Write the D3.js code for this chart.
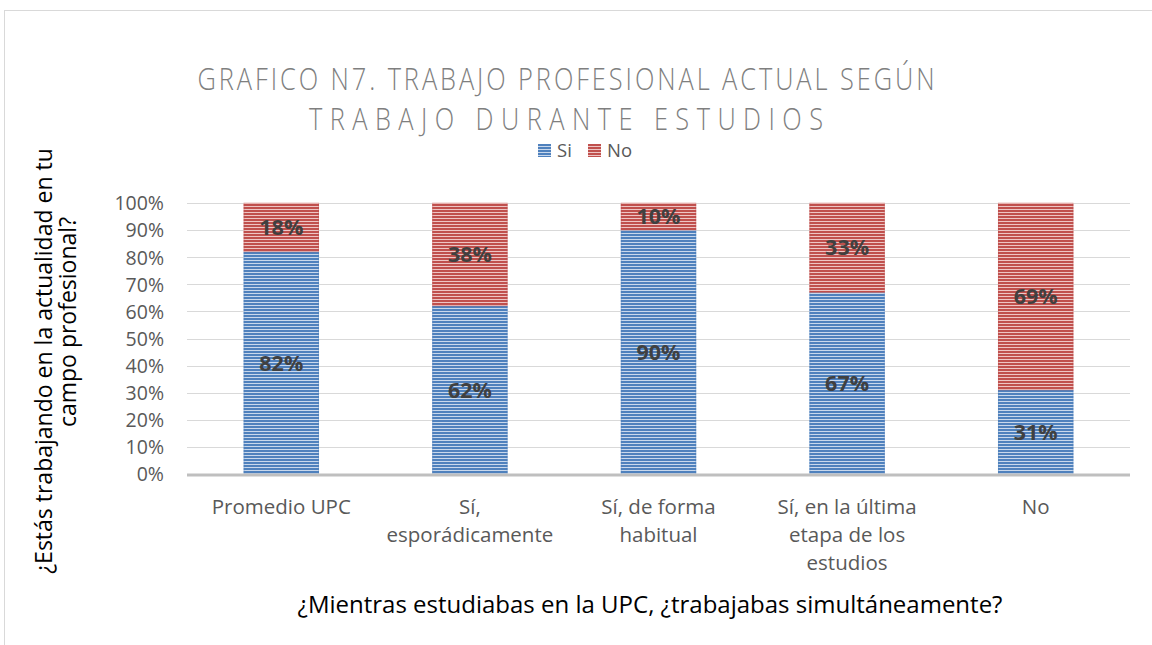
<!DOCTYPE html>
<html><head><meta charset="utf-8">
<script src="https://cdn.jsdelivr.net/npm/d3@7"></script>
<style>body{margin:0;background:#fff}svg{display:block}</style>
</head><body>
<svg id="c" width="1152" height="645"></svg>
<script>
const categories = [["Promedio UPC"],["Sí,","esporádicamente"],["Sí, de forma","habitual"],["Sí, en la última","etapa de los","estudios"],["No"]];
const seriesNames = ["Si","No"];
const siValues = [82,62,90,67,31];
const noValues = [18,38,10,33,69];
const yTicks = [0,10,20,30,40,50,60,70,80,90,100];
const titleLines = ["GRAFICO N7. TRABAJO PROFESIONAL ACTUAL SEGÚN","TRABAJO DURANTE ESTUDIOS"];
const yTitleLines = ["¿Estás trabajando en la actualidad en tu","campo profesional?"];
const xTitle = "¿Mientras estudiabas en la UPC, ¿trabajabas simultáneamente?";

const svg = d3.select("#c");
const font = "'Open Sans', 'Liberation Sans', sans-serif";
const colors = {Si:["#4f81bd","#c9d8ec"], No:["#c0504d","#eec5c4"]};

const defs = svg.append("defs");
seriesNames.forEach(s=>{
  const p = defs.append("pattern").attr("id","pat"+s).attr("patternUnits","userSpaceOnUse")
    .attr("width",8).attr("height",3);
  p.append("rect").attr("width",8).attr("height",3).attr("fill",colors[s][1]);
  p.append("rect").attr("width",8).attr("height",2).attr("fill",colors[s][0]);
});

// chart border
svg.append("rect").attr("x",4.5).attr("y",10.5).attr("width",1300).attr("height",800)
  .attr("fill","none").attr("stroke","#d9d9d9").attr("stroke-width",1);

const x0 = 187, x1 = 1130;
const x = d3.scaleBand().domain(d3.range(categories.length)).range([x0,x1]).paddingInner(0.6).paddingOuter(0.3);
const y = d3.scaleLinear().domain([0,100]).range([474,203]);

// gridlines
svg.append("g").selectAll("line").data(yTicks.filter(d=>d>0)).join("line")
  .attr("x1",x0).attr("x2",x1).attr("y1",d=>Math.round(y(d))+0.5).attr("y2",d=>Math.round(y(d))+0.5)
  .attr("stroke","#d9d9d9").attr("stroke-width",1);

// y axis labels
const yAxis = d3.axisLeft(y).tickValues(yTicks).tickFormat(d=>d+"%").tickSize(0).tickPadding(0);
const ya = svg.append("g").attr("transform","translate(164,0)").call(yAxis);
ya.select(".domain").remove();
ya.selectAll("text").attr("font-family",font).attr("font-size",19.5).attr("fill","#595959").attr("dy","0.35em");

// bars
const stackData = categories.map((c,i)=>({i, Si:siValues[i], No:noValues[i]}));
const stack = d3.stack().keys(seriesNames)(stackData);
const gb = svg.append("g");
stack.forEach(layer=>{
  const s = layer.key;
  gb.append("g").selectAll("rect").data(layer).join("rect")
    .attr("x",d=>x(d.data.i)).attr("width",x.bandwidth())
    .attr("y",d=>y(d[1])).attr("height",d=>y(d[0])-y(d[1]))
    .attr("fill","url(#pat"+s+")");
  gb.append("g").selectAll("rect").data(layer).join("rect")
    .attr("x",d=>x(d.data.i)+0.5).attr("width",x.bandwidth()-1)
    .attr("y",d=>y(d[1])).attr("height",d=>y(d[0])-y(d[1]))
    .attr("fill","none").attr("stroke",colors[s][0]).attr("stroke-opacity",0.35).attr("stroke-width",1);
  gb.append("g").selectAll("text").data(layer).join("text")
    .attr("x",d=>x(d.data.i)+x.bandwidth()/2).attr("y",d=>(y(d[0])+y(d[1]))/2)
    .attr("dy","0.36em").attr("text-anchor","middle")
    .attr("font-family",font).attr("font-weight","bold").attr("font-size",21.5).attr("fill","#404040")
    .text(d=>(d[1]-d[0])+"%");
});

// baseline
svg.append("line").attr("x1",x0).attr("x2",x1).attr("y1",y(0)+1).attr("y2",y(0)+1)
  .attr("stroke","#bfbfbf").attr("stroke-width",3);

// category labels
const xa = svg.append("g");
categories.forEach((lines,i)=>{
  const t = xa.append("text").attr("text-anchor","middle").attr("font-family",font)
    .attr("font-size",20.5).attr("fill","#595959");
  lines.forEach((l,k)=>t.append("tspan").attr("x",x(i)+x.bandwidth()/2).attr("y",514+k*28).text(l));
});

// title (narrow glyphs, wide spacing)
const sx = 0.82;
const tg = svg.append("g").attr("transform",`translate(566,0) scale(${sx},1)`);
const tt = tg.append("text").attr("text-anchor","middle").attr("font-family",font)
  .attr("font-size",31).attr("fill","#7f7f7f").attr("font-weight",300);
titleLines.forEach((l,k)=>tt.append("tspan").attr("x",0).attr("y",90+k*40).text(l)
  .attr("textLength",(k===0?737:514)/sx).attr("lengthAdjust","spacing"));

// legend
const lg = svg.append("g");
[{s:"Si",x:538},{s:"No",x:588}].forEach(d=>{
  lg.append("rect").attr("x",d.x).attr("y",144).attr("width",13).attr("height",13).attr("fill","url(#pat"+d.s+")");
  lg.append("text").attr("x",d.x+19).attr("y",157).attr("font-family",font).attr("font-size",18.5)
    .attr("fill","#595959").text(d.s);
});

// axis titles
svg.append("text").attr("x",650).attr("y",613).attr("text-anchor","middle").attr("font-family",font)
  .attr("font-size",24).attr("fill","#000").text(xTitle);
const yt = svg.append("text").attr("transform","rotate(-90)").attr("text-anchor","middle")
  .attr("font-family",font).attr("font-size",23).attr("fill","#000");
yt.append("tspan").attr("x",-361).attr("y",52).text(yTitleLines[0]);
yt.append("tspan").attr("x",-322).attr("y",76).text(yTitleLines[1]);
</script>
</body></html>
